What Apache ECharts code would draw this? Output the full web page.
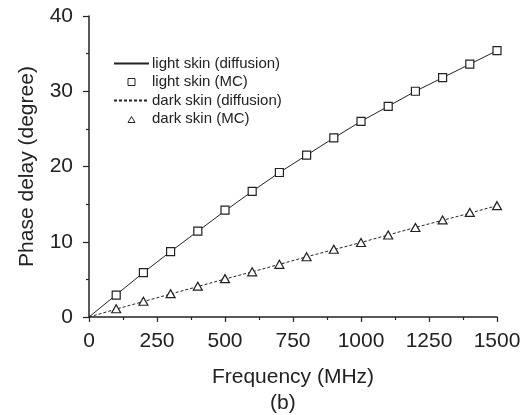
<!DOCTYPE html>
<html>
<head>
<meta charset="utf-8">
<script src="https://cdn.jsdelivr.net/npm/echarts@6/dist/echarts.min.js"></script>
<style>html,body{margin:0;padding:0;background:#fff}#c{width:528px;height:415px}</style>
</head>
<body>
<div id="c"></div>
<script>
var freqMC = [100,200,300,400,500,600,700,800,900,1000,1100,1200,1300,1400,1500];
var lightMC = [2.9,5.9,8.7,11.4,14.2,16.7,19.2,21.5,23.8,26.0,28.0,30.0,31.8,33.6,35.4];
var darkMC = [1.1,2.1,3.1,4.1,5.1,6.0,7.0,8.0,9.0,9.9,10.9,11.9,12.9,13.9,14.8];
var freqDiff = [0,100,200,300,400,500,600,700,800,900,1000,1100,1200,1300,1400,1500];
var lightDiff = [0,2.95,5.9,8.7,11.4,14.1,16.7,19.2,21.5,23.8,26.0,28.0,30.0,31.8,33.6,35.4];
var darkDiff = [0,1.05,2.05,3.05,4.05,5.05,6.0,7.0,8.0,8.95,9.9,10.9,11.9,12.85,13.8,14.8];
var seriesNames = ['light skin (diffusion)','light skin (MC)','dark skin (diffusion)','dark skin (MC)'];

function pairs(xs, ys){ return xs.map(function(x,i){return [x, ys[i]];}); }

var C = '#222';
var font = 'Liberation Sans, Arial, sans-serif';
var chart = echarts.init(document.getElementById('c'), null, {renderer:'canvas'});
chart.setOption({
  animation: false,
  backgroundColor: '#fff',
  grid: {left: 89, right: 31, top: 16, bottom: 98},
  legend: {
    orient: 'vertical', left: 113, top: 56, padding: 0, itemWidth: 35, itemHeight: 9, itemGap: 3.5,
    textStyle: {fontFamily: font, fontSize: 15, color: C, padding: [0,0,0,-2]},
    data: [
      {name: seriesNames[0], itemStyle: {opacity: 0}},
      {name: seriesNames[1], icon: 'path://M0,0M35,9M14,1L21,1L21,8L14,8Z', itemStyle: {color: '#fff', borderColor: C, borderWidth: 1}},
      {name: seriesNames[2], itemStyle: {opacity: 0}},
      {name: seriesNames[3], icon: 'path://M0,0M35,9M14,8L17.5,2L21,8Z', itemStyle: {color: '#fff', borderColor: C, borderWidth: 1}}
    ]
  },
  xAxis: {
    type: 'value', min: 0, max: 1500, interval: 250,
    name: 'Frequency (MHz)', nameLocation: 'middle', nameGap: 50,
    nameTextStyle: {fontFamily: font, fontSize: 21, color: C},
    axisLine: {show: true, lineStyle: {color: C, width: 1.5}},
    axisTick: {show: true, length: 5, lineStyle: {color: C, width: 1.2}},
    minorTick: {show: true, splitNumber: 2, length: 3, lineStyle: {color: C, width: 1.2}},
    axisLabel: {fontFamily: font, fontSize: 21, color: C, margin: 14, formatter: function(v){return String(v);}},
    splitLine: {show: false}
  },
  yAxis: {
    type: 'value', min: 0, max: 40, interval: 10,
    name: 'Phase delay (degree)', nameLocation: 'middle', nameGap: 51,
    nameTextStyle: {fontFamily: font, fontSize: 21, color: C},
    axisLine: {show: true, lineStyle: {color: C, width: 1.5}},
    axisTick: {show: true, length: 6, lineStyle: {color: C, width: 1.2}},
    minorTick: {show: true, splitNumber: 2, length: 3, lineStyle: {color: C, width: 1.2}},
    axisLabel: {fontFamily: font, fontSize: 21, color: C, margin: 16},
    splitLine: {show: false}
  },
  graphic: [{type: 'text', left: 270, top: 393, style: {text: '(b)', font: '21px ' + font, fill: C}}],
  series: [
    {name: seriesNames[0], type: 'line', data: pairs(freqDiff, lightDiff), symbol: 'none',
     lineStyle: {color: C, width: 1}, itemStyle: {color: C}, z: 2},
    {name: seriesNames[1], type: 'scatter', data: pairs(freqMC, lightMC), symbol: 'rect', symbolSize: 8,
     itemStyle: {color: '#fff', borderColor: C, borderWidth: 1.2, opacity: 1}, z: 3},
    {name: seriesNames[2], type: 'line', data: pairs(freqDiff, darkDiff), symbol: 'none',
     lineStyle: {color: C, width: 1, type: [3, 2]}, itemStyle: {color: C}, z: 2},
    {name: seriesNames[3], type: 'scatter', data: pairs(freqMC, darkMC), symbol: 'triangle', symbolSize: [9, 8],
     itemStyle: {color: '#fff', borderColor: C, borderWidth: 1.2, opacity: 1}, z: 3}
  ]
});
</script>
</body>
</html>
